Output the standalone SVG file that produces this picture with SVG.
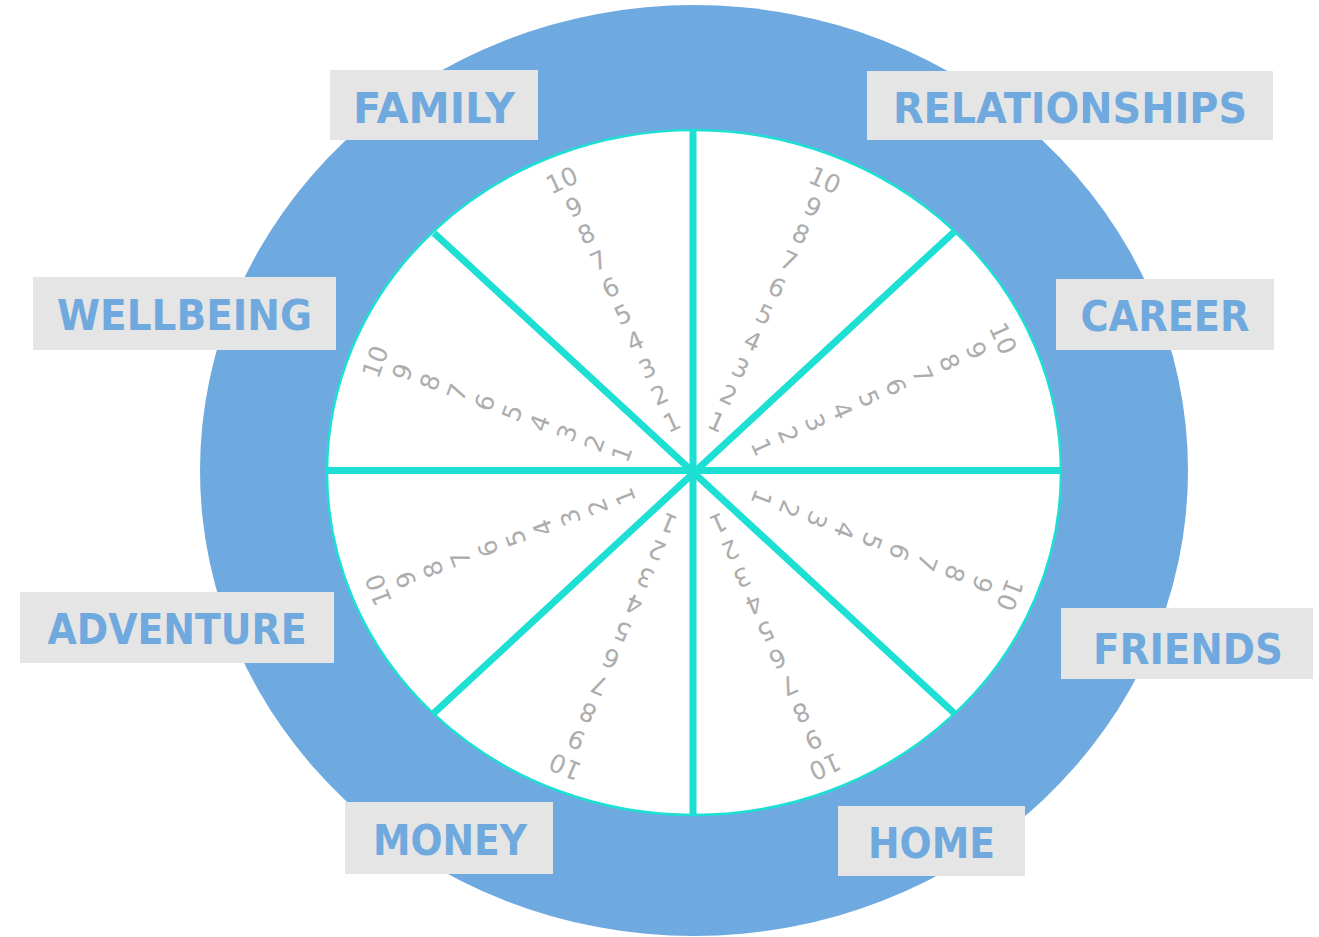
<svg xmlns="http://www.w3.org/2000/svg" width="1319" height="937" viewBox="0 0 1319 937">
  <style>
    .ring { fill: #6eaae0; }
    .wheel { fill: #ffffff; stroke: #1ddfd4; stroke-width: 2.5; }
    .spoke { stroke: #1ddfd4; stroke-width: 7; stroke-linecap: butt; fill: none; }
    .box { fill: #e5e5e5; }
    .label { font-family: "DejaVu Sans", Verdana, sans-serif; font-weight: bold; font-size: 43px; fill: #6fa9de; text-anchor: middle; }
    .num { font-family: "DejaVu Sans", Verdana, sans-serif; font-size: 25px; fill: #adadad; text-anchor: middle; }
  </style>

  <!-- outer blue ring and white wheel -->
  <g id="ring">
    <ellipse class="ring" cx="694" cy="470.5" rx="494" ry="465.5"/>
  </g>
  <g id="wheel">
    <ellipse class="wheel" cx="694" cy="472.5" rx="367" ry="342.5"/>
  </g>

  <!-- eight spokes from the hub -->
  <g id="spokes">
    <line class="spoke" x1="693" y1="130" x2="693" y2="816"/>
    <line class="spoke" x1="327" y1="470.5" x2="1061" y2="470.5"/>
    <line class="spoke" x1="434" y1="233" x2="954" y2="713"/>
    <line class="spoke" x1="954" y1="232" x2="434" y2="713"/>
  </g>

  <!-- score scales, 1 at the hub to 10 at the rim -->
  <g id="scale-top-left" class="num">
    <text transform="translate(671.7,421.7) rotate(-24.5)" dy=".36em">1</text>
    <text transform="translate(659.5,394.8) rotate(-24.5)" dy=".36em">2</text>
    <text transform="translate(647.3,368.0) rotate(-24.5)" dy=".36em">3</text>
    <text transform="translate(635.0,341.1) rotate(-24.5)" dy=".36em">4</text>
    <text transform="translate(622.8,314.3) rotate(-24.5)" dy=".36em">5</text>
    <text transform="translate(610.6,287.4) rotate(-24.5)" dy=".36em">6</text>
    <text transform="translate(598.4,260.5) rotate(-24.5)" dy=".36em">7</text>
    <text transform="translate(586.2,233.7) rotate(-24.5)" dy=".36em">8</text>
    <text transform="translate(573.9,206.8) rotate(-24.5)" dy=".36em">9</text>
    <text transform="translate(561.7,180.0) rotate(-24.5)" dy=".36em">10</text>
  </g>
  <g id="scale-top-right" class="num">
    <text transform="translate(716.7,421.7) rotate(24.1)" dy=".36em">1</text>
    <text transform="translate(728.7,394.8) rotate(24.1)" dy=".36em">2</text>
    <text transform="translate(740.8,368.0) rotate(24.1)" dy=".36em">3</text>
    <text transform="translate(752.8,341.1) rotate(24.1)" dy=".36em">4</text>
    <text transform="translate(764.8,314.3) rotate(24.1)" dy=".36em">5</text>
    <text transform="translate(776.9,287.4) rotate(24.1)" dy=".36em">6</text>
    <text transform="translate(788.9,260.5) rotate(24.1)" dy=".36em">7</text>
    <text transform="translate(800.9,233.7) rotate(24.1)" dy=".36em">8</text>
    <text transform="translate(813.0,206.8) rotate(24.1)" dy=".36em">9</text>
    <text transform="translate(825.0,180.0) rotate(24.1)" dy=".36em">10</text>
  </g>
  <g id="scale-left-upper" class="num">
    <text transform="translate(621.7,453.3) rotate(-69.6)" dy=".36em">1</text>
    <text transform="translate(594.3,443.1) rotate(-69.6)" dy=".36em">2</text>
    <text transform="translate(566.9,432.9) rotate(-69.6)" dy=".36em">3</text>
    <text transform="translate(539.5,422.8) rotate(-69.6)" dy=".36em">4</text>
    <text transform="translate(512.1,412.6) rotate(-69.6)" dy=".36em">5</text>
    <text transform="translate(484.7,402.4) rotate(-69.6)" dy=".36em">6</text>
    <text transform="translate(457.2,392.2) rotate(-69.6)" dy=".36em">7</text>
    <text transform="translate(429.8,382.0) rotate(-69.6)" dy=".36em">8</text>
    <text transform="translate(402.4,371.9) rotate(-69.6)" dy=".36em">9</text>
    <text transform="translate(375.0,361.7) rotate(-69.6)" dy=".36em">10</text>
  </g>
  <g id="scale-right-upper" class="num">
    <text transform="translate(761.7,446.7) rotate(65.8)" dy=".36em">1</text>
    <text transform="translate(788.5,434.7) rotate(65.8)" dy=".36em">2</text>
    <text transform="translate(815.4,422.6) rotate(65.8)" dy=".36em">3</text>
    <text transform="translate(842.2,410.6) rotate(65.8)" dy=".36em">4</text>
    <text transform="translate(869.1,398.5) rotate(65.8)" dy=".36em">5</text>
    <text transform="translate(895.9,386.5) rotate(65.8)" dy=".36em">6</text>
    <text transform="translate(922.7,374.5) rotate(65.8)" dy=".36em">7</text>
    <text transform="translate(949.6,362.4) rotate(65.8)" dy=".36em">8</text>
    <text transform="translate(976.4,350.4) rotate(65.8)" dy=".36em">9</text>
    <text transform="translate(1003.3,338.3) rotate(65.8)" dy=".36em">10</text>
  </g>
  <g id="scale-right-lower" class="num">
    <text transform="translate(761.7,498.3) rotate(111.3)" dy=".36em">1</text>
    <text transform="translate(789.3,509.0) rotate(111.3)" dy=".36em">2</text>
    <text transform="translate(816.9,519.8) rotate(111.3)" dy=".36em">3</text>
    <text transform="translate(844.5,530.5) rotate(111.3)" dy=".36em">4</text>
    <text transform="translate(872.1,541.3) rotate(111.3)" dy=".36em">5</text>
    <text transform="translate(899.6,552.0) rotate(111.3)" dy=".36em">6</text>
    <text transform="translate(927.2,562.7) rotate(111.3)" dy=".36em">7</text>
    <text transform="translate(954.8,573.5) rotate(111.3)" dy=".36em">8</text>
    <text transform="translate(982.4,584.3) rotate(111.3)" dy=".36em">9</text>
    <text transform="translate(1010.0,595.0) rotate(111.3)" dy=".36em">10</text>
  </g>
  <g id="scale-left-lower" class="num">
    <text transform="translate(625.0,496.7) rotate(-110.7)" dy=".36em">1</text>
    <text transform="translate(597.6,507.1) rotate(-110.7)" dy=".36em">2</text>
    <text transform="translate(570.2,517.4) rotate(-110.7)" dy=".36em">3</text>
    <text transform="translate(542.8,527.8) rotate(-110.7)" dy=".36em">4</text>
    <text transform="translate(515.4,538.2) rotate(-110.7)" dy=".36em">5</text>
    <text transform="translate(487.9,548.5) rotate(-110.7)" dy=".36em">6</text>
    <text transform="translate(460.5,558.9) rotate(-110.7)" dy=".36em">7</text>
    <text transform="translate(433.1,569.3) rotate(-110.7)" dy=".36em">8</text>
    <text transform="translate(405.7,579.6) rotate(-110.7)" dy=".36em">9</text>
    <text transform="translate(378.3,590.0) rotate(-110.7)" dy=".36em">10</text>
  </g>
  <g id="scale-bottom-left" class="num">
    <text transform="translate(668.3,523.3) rotate(-157)" dy=".36em">1</text>
    <text transform="translate(656.8,550.3) rotate(-157)" dy=".36em">2</text>
    <text transform="translate(645.3,577.4) rotate(-157)" dy=".36em">3</text>
    <text transform="translate(633.9,604.4) rotate(-157)" dy=".36em">4</text>
    <text transform="translate(622.4,631.5) rotate(-157)" dy=".36em">5</text>
    <text transform="translate(610.9,658.5) rotate(-157)" dy=".36em">6</text>
    <text transform="translate(599.4,685.5) rotate(-157)" dy=".36em">7</text>
    <text transform="translate(587.9,712.6) rotate(-157)" dy=".36em">8</text>
    <text transform="translate(576.5,739.6) rotate(-157)" dy=".36em">9</text>
    <text transform="translate(565.0,766.7) rotate(-157)" dy=".36em">10</text>
  </g>
  <g id="scale-bottom-right" class="num">
    <text transform="translate(718.3,523.3) rotate(156.4)" dy=".36em">1</text>
    <text transform="translate(730.2,550.3) rotate(156.4)" dy=".36em">2</text>
    <text transform="translate(742.0,577.4) rotate(156.4)" dy=".36em">3</text>
    <text transform="translate(753.9,604.4) rotate(156.4)" dy=".36em">4</text>
    <text transform="translate(765.7,631.5) rotate(156.4)" dy=".36em">5</text>
    <text transform="translate(777.6,658.5) rotate(156.4)" dy=".36em">6</text>
    <text transform="translate(789.4,685.5) rotate(156.4)" dy=".36em">7</text>
    <text transform="translate(801.3,712.6) rotate(156.4)" dy=".36em">8</text>
    <text transform="translate(813.2,739.6) rotate(156.4)" dy=".36em">9</text>
    <text transform="translate(825.0,766.7) rotate(156.4)" dy=".36em">10</text>
  </g>

  <!-- life-area labels -->
  <g id="family">
    <rect class="box" x="330" y="70" width="208" height="70"/>
    <text class="label" x="434" y="122.5" textLength="162" lengthAdjust="spacingAndGlyphs">FAMILY</text>
  </g>
  <g id="relationships">
    <rect class="box" x="867" y="71" width="406" height="69"/>
    <text class="label" x="1070" y="122.5" textLength="354" lengthAdjust="spacingAndGlyphs">RELATIONSHIPS</text>
  </g>
  <g id="wellbeing">
    <rect class="box" x="33" y="277" width="303" height="73"/>
    <text class="label" x="184.5" y="330" textLength="255" lengthAdjust="spacingAndGlyphs">WELLBEING</text>
  </g>
  <g id="career">
    <rect class="box" x="1056" y="279" width="218" height="71"/>
    <text class="label" x="1165" y="331" textLength="169" lengthAdjust="spacingAndGlyphs">CAREER</text>
  </g>
  <g id="adventure">
    <rect class="box" x="20" y="592" width="314" height="71"/>
    <text class="label" x="177" y="644" textLength="259" lengthAdjust="spacingAndGlyphs">ADVENTURE</text>
  </g>
  <g id="friends">
    <rect class="box" x="1061" y="608" width="252" height="71"/>
    <text class="label" x="1188" y="663.5" textLength="190" lengthAdjust="spacingAndGlyphs">FRIENDS</text>
  </g>
  <g id="money">
    <rect class="box" x="345" y="802" width="208" height="72"/>
    <text class="label" x="450" y="855" textLength="154" lengthAdjust="spacingAndGlyphs">MONEY</text>
  </g>
  <g id="home">
    <rect class="box" x="838" y="806" width="187" height="70"/>
    <text class="label" x="931.5" y="858" textLength="127" lengthAdjust="spacingAndGlyphs">HOME</text>
  </g>
</svg>
